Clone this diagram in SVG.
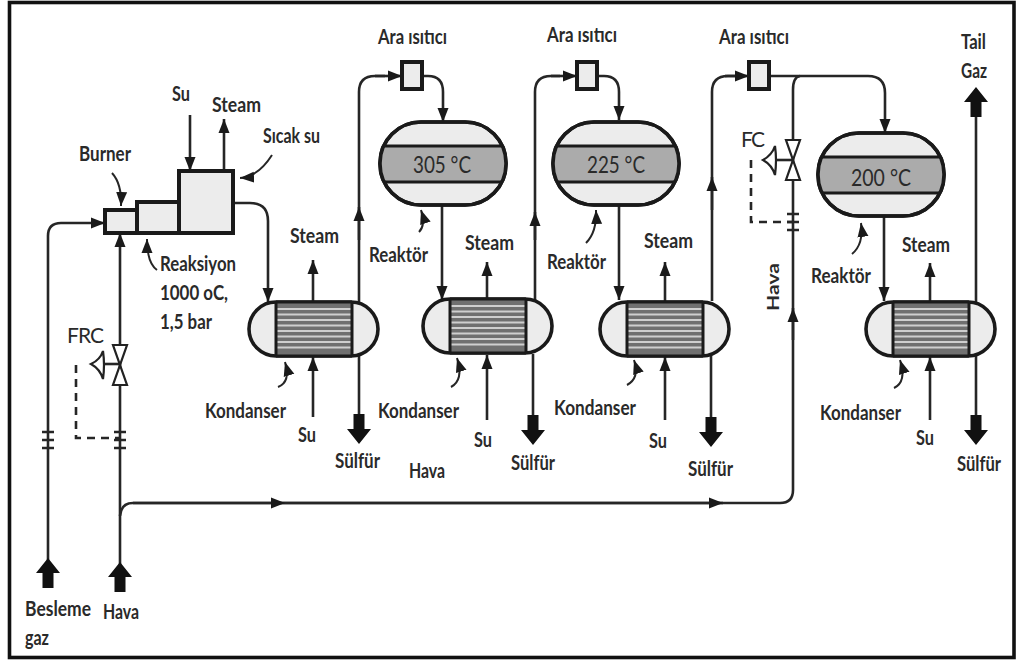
<svg xmlns="http://www.w3.org/2000/svg" xmlns:xlink="http://www.w3.org/1999/xlink" width="1016" height="663" viewBox="0 0 1016 663">
<style>
.t{font-family:"Lato","Liberation Sans",sans-serif;font-weight:700;font-size:20px;fill:#2a2a2a}
.m{font-weight:400;font-size:23px}
.k{font-weight:400;font-size:21px}
.c{fill:none;stroke:#262626;stroke-width:2.6}
.p{fill:none;stroke:#262626;stroke-width:2}
.a{marker-end:url(#ah)}
.d{fill:none;stroke:#262626;stroke-width:2.6;stroke-dasharray:8 6}
.box{fill:#ececec;stroke:#1a1a1a;stroke-width:4}
.shell{fill:#ececec;stroke:#1a1a1a;stroke-width:3.6}
.thick{fill:#111}
.line{stroke:#1a1a1a;stroke-width:3;fill:none}
.tube{stroke:#cfcfcf;stroke-width:1.8}
</style>
<defs>
<marker id="ah" markerUnits="userSpaceOnUse" markerWidth="16" markerHeight="12" refX="14" refY="6" orient="auto"><path d="M0 0.5L14 6L0 11.500Z" fill="#1a1a1a"/></marker>
<path id="thick" class="thick" d="M0 0L12 15H5.500V30H-5.500V15H-12Z"/>
<clipPath id="rc"><rect x="0" y="0" width="126" height="83" rx="41" ry="41"/></clipPath>
<g id="reactor">
<rect class="shell" x="0" y="0" width="126" height="83" rx="41" ry="41"/>
<g clip-path="url(#rc)"><rect x="0" y="24" width="126" height="36" fill="#ababab"/><path class="line" d="M0 24H126M0 60H126"/></g>
<rect x="0" y="0" width="126" height="83" rx="41" ry="41" fill="none" stroke="#1a1a1a" stroke-width="3.6"/>
</g>
<g id="condenser">
<rect class="shell" x="0" y="0" width="129" height="54" rx="27" ry="27"/>
<rect x="27" y="1" width="76" height="52" fill="#707070"/>
<path class="tube" d="M27 7H103M27 12.500H103M27 18H103M27 23.500H103M27 29H103M27 34.500H103M27 40H103M27 45.500H103"/>
<path class="line" d="M27 0V54M103 0V54M27 0H103M27 54H103"/>
</g>
<g id="heater"><rect x="0" y="0" width="20" height="27" fill="#ececec" stroke="#1a1a1a" stroke-width="4"/></g>
<g id="valve"><path d="M-7 -20H7L-7 20H7Z" fill="#fff" stroke="#222" stroke-width="2.200"/></g>
<path id="ticks" d="M-6 -8H6M-6 0H6M-6 8H6" fill="none" stroke="#262626" stroke-width="2.600"/>
</defs>
<rect width="1016" height="663" fill="#fff"/>
<rect x="9.500" y="2.500" width="1004.500" height="655" fill="none" stroke="#111" stroke-width="3.600"/>

<g id="connectors">
<path class="c a" d="M48 560V236Q48 223 61 223H105"/>
<path class="c a" d="M120 565V233"/>
<path class="c" d="M120 516Q121 503 133 503H780Q793 503 793 490V90Q793 77 800 76"/>
<path class="c a" d="M133 503H285"/>
<path class="c a" d="M285 503H723"/>
<path class="c a" d="M793 340V308"/>
<path class="c" d="M120 364H97"/>
<path class="c" d="M793 160H765"/>
<path class="d" d="M76 365V438H120"/>
<path class="d" d="M751 160V222H793"/>
<path class="c a" d="M190 115V171"/>
<path class="c a" d="M224 171V119"/>
<path class="c a" d="M233 203H250Q268 203 268 221V302"/>
<path class="c a" d="M313 302V260"/>
<path class="c a" d="M313 417V357"/>
<path class="c" d="M359 356V420"/>
<path class="c" d="M359 302V92Q359 76 375 76H385"/>
<path class="c a" d="M375 76H402"/>
<path class="c a" d="M359 240V207"/>
<path class="c a" d="M422 76H428Q443 76 443 92V122"/>
<path class="c a" d="M442 205V300"/>
<path class="c a" d="M487 299V262"/>
<path class="c a" d="M487 420V355"/>
<path class="c" d="M533 354V420"/>
<path class="c" d="M535 300V92Q535 76 551 76H560"/>
<path class="c a" d="M551 76H577"/>
<path class="c a" d="M535 240V212"/>
<path class="c a" d="M597 76H604Q619 76 619 92V120"/>
<path class="c a" d="M619 205V300"/>
<path class="c a" d="M665 301V262"/>
<path class="c a" d="M665 420V357"/>
<path class="c" d="M711 356V420"/>
<path class="c" d="M712 301V92Q712 76 728 76H735"/>
<path class="c a" d="M725 76H749"/>
<path class="c a" d="M712 210V177"/>
<path class="c a" d="M769 76H868Q885 76 885 93V133"/>
<path class="c a" d="M884 217V301"/>
<path class="c a" d="M930 302V263"/>
<path class="c a" d="M930 420V357"/>
<path class="c" d="M976 356V420"/>
<path class="c" d="M976 302V112"/>
<path class="p a" d="M112 173Q122 184 121 206"/>
<path class="p a" d="M157 270Q147 263 147 239"/>
<path class="p a" d="M272 155Q258 177 240 178"/>
<path class="p a" d="M419 232Q426 225 421 210"/>
<path class="p a" d="M586 243Q597 232 596 210"/>
<path class="p a" d="M852 254Q864 244 861 223"/>
<path class="p a" d="M278 387Q291 382 285 362"/>
<path class="p a" d="M451 387Q464 380 457 358"/>
<path class="p a" d="M627 385Q640 378 634 360"/>
<path class="p a" d="M894 388Q907 382 900 360"/>
<use xlink:href="#ticks" href="#ticks" x="48" y="440"/>
<use xlink:href="#ticks" href="#ticks" x="120" y="440"/>
<use xlink:href="#ticks" href="#ticks" x="793" y="222"/>
<use xlink:href="#thick" href="#thick" x="48" y="558"/>
<use xlink:href="#thick" href="#thick" x="120" y="562"/>
<use xlink:href="#thick" href="#thick" x="976" y="87"/>
<use xlink:href="#thick" href="#thick" transform="translate(359 444) rotate(180)"/>
<use xlink:href="#thick" href="#thick" transform="translate(533 445) rotate(180)"/>
<use xlink:href="#thick" href="#thick" transform="translate(711 447) rotate(180)"/>
<use xlink:href="#thick" href="#thick" transform="translate(976 445) rotate(180)"/>
</g>

<g id="burner"><rect class="box" x="105" y="210" width="32" height="23"/></g>
<g id="reaction"><rect class="box" x="137" y="202" width="42" height="31"/></g>
<g id="hot-water"><rect class="box" x="179" y="171" width="54" height="62"/></g>
<g id="frc-valve"><use xlink:href="#valve" href="#valve" x="120" y="365"/><path d="M103 351Q100 360 91 364Q100 369 103 379Q105 365 103 351Z" fill="#fff" stroke="#222" stroke-width="2.200"/></g>
<g id="fc-valve"><use xlink:href="#valve" href="#valve" x="793" y="160"/><path d="M775 146Q772 155 763 160Q772 165 775 175Q777 160 775 146Z" fill="#fff" stroke="#222" stroke-width="2.200"/></g>
<g id="heater-1"><use xlink:href="#heater" href="#heater" x="402" y="62"/></g>
<g id="heater-2"><use xlink:href="#heater" href="#heater" x="577" y="62"/></g>
<g id="heater-3"><use xlink:href="#heater" href="#heater" x="749" y="62"/></g>
<g id="reactor-1"><use xlink:href="#reactor" href="#reactor" x="380" y="122"/><text class="t m" x="413" y="173" textLength="58" lengthAdjust="spacingAndGlyphs">305 °C</text></g>
<g id="reactor-2"><use xlink:href="#reactor" href="#reactor" x="553" y="122"/><text class="t m" x="587" y="173" textLength="58" lengthAdjust="spacingAndGlyphs">225 °C</text></g>
<g id="reactor-3"><use xlink:href="#reactor" href="#reactor" x="818" y="133"/><text class="t m" x="851" y="186" textLength="60" lengthAdjust="spacingAndGlyphs">200 °C</text></g>
<g id="condenser-1"><use xlink:href="#condenser" href="#condenser" x="249" y="302"/></g>
<g id="condenser-2"><use xlink:href="#condenser" href="#condenser" x="423" y="299"/></g>
<g id="condenser-3"><use xlink:href="#condenser" href="#condenser" x="600" y="302"/></g>
<g id="condenser-4"><use xlink:href="#condenser" href="#condenser" x="866" y="302"/></g>

<g id="labels">
<text class="t" x="172" y="101" textLength="18" lengthAdjust="spacingAndGlyphs">Su</text>
<text class="t" x="212" y="112" textLength="49" lengthAdjust="spacingAndGlyphs">Steam</text>
<text class="t" x="263" y="143" textLength="57" lengthAdjust="spacingAndGlyphs">Sıcak su</text>
<text class="t" x="79" y="161" textLength="52" lengthAdjust="spacingAndGlyphs">Burner</text>
<text class="t" x="160" y="271" textLength="76" lengthAdjust="spacingAndGlyphs">Reaksiyon</text>
<text class="t" x="160" y="300" textLength="68" lengthAdjust="spacingAndGlyphs">1000 oC,</text>
<text class="t" x="160" y="329" textLength="52" lengthAdjust="spacingAndGlyphs">1,5 bar</text>
<text class="t" x="290" y="243" textLength="49" lengthAdjust="spacingAndGlyphs">Steam</text>
<text class="t k" x="67" y="343" textLength="37" lengthAdjust="spacing">FRC</text>
<text class="t k" x="741" y="147" textLength="24" lengthAdjust="spacing">FC</text>
<text class="t" x="378" y="44" textLength="69" lengthAdjust="spacingAndGlyphs">Ara ısıtıcı</text>
<text class="t" x="547" y="42" textLength="70" lengthAdjust="spacingAndGlyphs">Ara ısıtıcı</text>
<text class="t" x="719" y="44" textLength="70" lengthAdjust="spacingAndGlyphs">Ara ısıtıcı</text>
<text class="t" x="369" y="262" textLength="59" lengthAdjust="spacingAndGlyphs">Reaktör</text>
<text class="t" x="547" y="269" textLength="59" lengthAdjust="spacingAndGlyphs">Reaktör</text>
<text class="t" x="811" y="283" textLength="60" lengthAdjust="spacingAndGlyphs">Reaktör</text>
<text class="t" x="465" y="250" textLength="49" lengthAdjust="spacingAndGlyphs">Steam</text>
<text class="t" x="644" y="248" textLength="49" lengthAdjust="spacingAndGlyphs">Steam</text>
<text class="t" x="902" y="252" textLength="48" lengthAdjust="spacingAndGlyphs">Steam</text>
<text class="t" x="961" y="49" textLength="25" lengthAdjust="spacingAndGlyphs">Tail</text>
<text class="t" x="961" y="78" textLength="26" lengthAdjust="spacingAndGlyphs">Gaz</text>
<text class="t" x="205" y="418" textLength="81" lengthAdjust="spacingAndGlyphs">Kondanser</text>
<text class="t" x="378" y="418" textLength="81" lengthAdjust="spacingAndGlyphs">Kondanser</text>
<text class="t" x="554" y="415" textLength="82" lengthAdjust="spacingAndGlyphs">Kondanser</text>
<text class="t" x="820" y="420" textLength="81" lengthAdjust="spacingAndGlyphs">Kondanser</text>
<text class="t" x="298" y="442" textLength="18" lengthAdjust="spacingAndGlyphs">Su</text>
<text class="t" x="474" y="447" textLength="18" lengthAdjust="spacingAndGlyphs">Su</text>
<text class="t" x="649" y="448" textLength="18" lengthAdjust="spacingAndGlyphs">Su</text>
<text class="t" x="916" y="445" textLength="18" lengthAdjust="spacingAndGlyphs">Su</text>
<text class="t" x="335" y="468" textLength="45" lengthAdjust="spacingAndGlyphs">Sülfür</text>
<text class="t" x="511" y="470" textLength="44" lengthAdjust="spacingAndGlyphs">Sülfür</text>
<text class="t" x="688" y="476" textLength="45" lengthAdjust="spacingAndGlyphs">Sülfür</text>
<text class="t" x="957" y="471" textLength="44" lengthAdjust="spacingAndGlyphs">Sülfür</text>
<text class="t" x="409" y="478" textLength="36" lengthAdjust="spacingAndGlyphs">Hava</text>
<text class="t" x="103" y="619" textLength="36" lengthAdjust="spacingAndGlyphs">Hava</text>
<text class="t" x="25" y="616" textLength="66" lengthAdjust="spacingAndGlyphs">Besleme</text>
<text class="t" x="25" y="645" textLength="24" lengthAdjust="spacingAndGlyphs">gaz</text>
<text class="t" transform="translate(779 311) rotate(-90)" textLength="48" lengthAdjust="spacingAndGlyphs" style="font-size:17px">Hava</text>
</g>
</svg>
